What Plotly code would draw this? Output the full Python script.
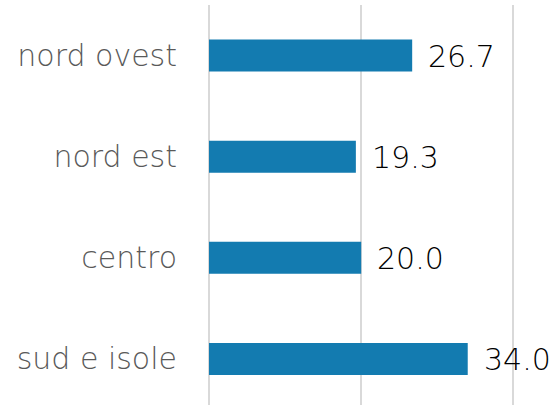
import plotly.graph_objects as go

categories = ["nord ovest", "nord est", "centro", "sud e isole"]
values = [26.7, 19.3, 20.0, 34.0]
labels = ["26.7", "19.3", "20.0", "34.0"]

BAR_COLOR = "#137BB0"
FONT = "DejaVu Sans"

fig = go.Figure()
fig.add_trace(go.Bar(
    y=categories,
    x=values,
    orientation="h",
    width=0.317,
    marker=dict(color=BAR_COLOR, line=dict(width=0)),
    hoverinfo="skip",
))

for cat, v, lab in zip(categories, values, labels):
    fig.add_annotation(
        x=v, y=cat, text=lab, showarrow=False,
        xanchor="left", yanchor="middle", xshift=14, yshift=-1,
        font=dict(family=FONT, size=30, color="#000000", weight=300),
    )

fig.update_layout(
    width=557, height=405,
    margin=dict(l=209, r=36, t=5, b=0),
    paper_bgcolor="white", plot_bgcolor="white",
    showlegend=False,
    xaxis=dict(
        range=[0, 41], dtick=20, showgrid=True, gridcolor="#d9d9d9", gridwidth=1.5,
        zeroline=True, zerolinecolor="#d9d9d9", zerolinewidth=1.5,
        showticklabels=False, showline=False, fixedrange=True,
    ),
    yaxis=dict(
        type="category", categoryorder="array", categoryarray=categories,
        range=[3.455, -0.5], showgrid=False, zeroline=False, showline=False,
        tickfont=dict(family=FONT, size=30, color="#595959", weight=300),
        ticks="", ticklabelstandoff=31, automargin=False, fixedrange=True,
    ),
)

fig.write_html(
    "out.html",
    config={"displayModeBar": False},
    post_script="document.body.style.margin='0';document.body.style.overflow='hidden';",
)
